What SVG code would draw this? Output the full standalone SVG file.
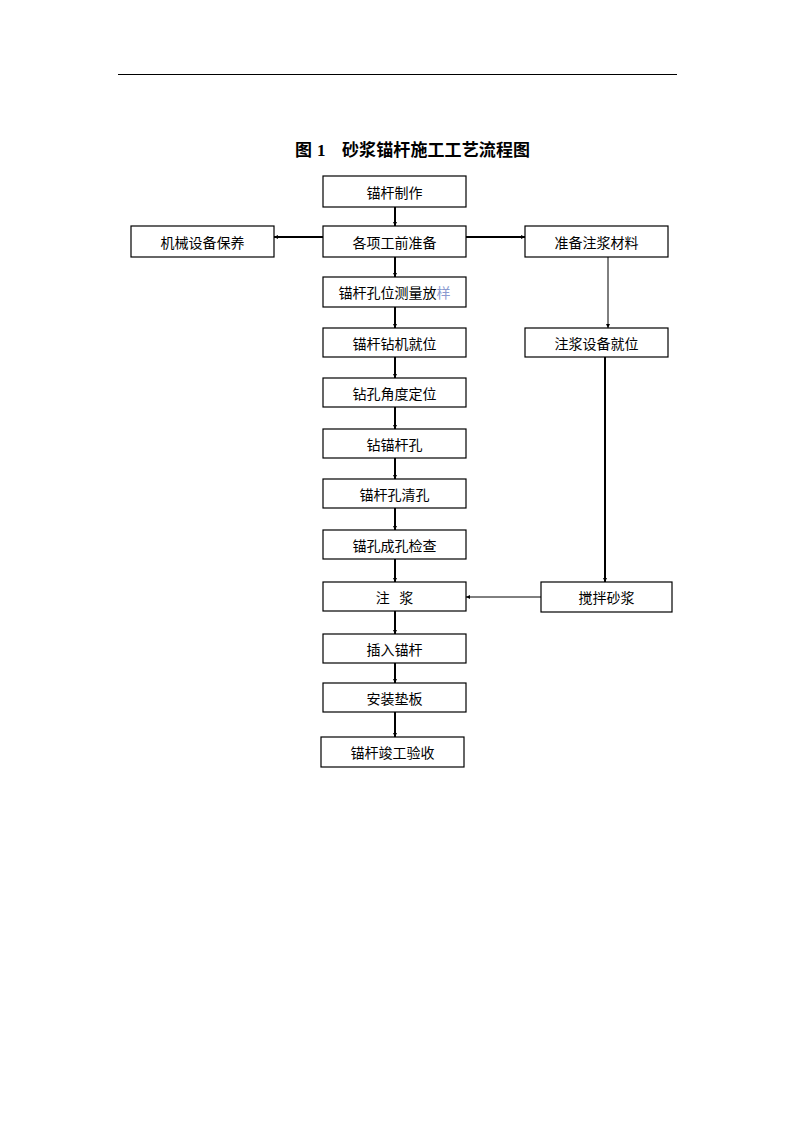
<svg xmlns="http://www.w3.org/2000/svg" width="794" height="1123" viewBox="0 0 794 1123">
<style>
.box{fill:#fff;stroke:#000;stroke-width:1.2}
.t{font-family:"Noto Sans CJK SC","Noto Sans",sans-serif;font-size:14px;fill:#000;text-anchor:middle;dominant-baseline:central}
.ti{font-family:"Liberation Serif","Noto Sans CJK SC",serif;font-size:17px;font-weight:bold;fill:#000;dominant-baseline:central}
.thick{stroke:#000;stroke-width:2;fill:none}
.thin{stroke:#000;stroke-width:1;fill:none}
</style>
<defs>
<marker id="ah" viewBox="0 0 6 6" refX="6" refY="3" markerWidth="4" markerHeight="4" markerUnits="userSpaceOnUse" orient="auto"><path d="M0,0 L6,3 L0,6 Z" fill="#000"/></marker>
</defs>
<rect width="794" height="1123" fill="#fff"/>
<line x1="118" y1="74.5" x2="677" y2="74.5" stroke="#000" stroke-width="1"/>
<text class="ti" x="295" y="150">图</text>
<text class="ti" x="317" y="150">1</text>
<text class="ti" x="342" y="150" textLength="188" lengthAdjust="spacing">砂浆锚杆施工工艺流程图</text>
<g id="connectors">
<line class="thick" x1="395" y1="207" x2="395" y2="226" marker-end="url(#ah)"/>
<line class="thick" x1="323" y1="237" x2="274" y2="237" marker-end="url(#ah)"/>
<line class="thick" x1="466" y1="237" x2="525" y2="237" marker-end="url(#ah)"/>
<line class="thick" x1="395" y1="257" x2="395" y2="277" marker-end="url(#ah)"/>
<line class="thin" x1="608" y1="257" x2="608" y2="328" marker-end="url(#ah)"/>
<line class="thick" x1="395" y1="307" x2="395" y2="328" marker-end="url(#ah)"/>
<line class="thick" x1="395" y1="357" x2="395" y2="378" marker-end="url(#ah)"/>
<line class="thick" x1="395" y1="407" x2="395" y2="429" marker-end="url(#ah)"/>
<line class="thick" x1="395" y1="458" x2="395" y2="479" marker-end="url(#ah)"/>
<line class="thick" x1="395" y1="508" x2="395" y2="530" marker-end="url(#ah)"/>
<line class="thick" x1="395" y1="559" x2="395" y2="582" marker-end="url(#ah)"/>
<line class="thick" x1="605" y1="357" x2="605" y2="582" marker-end="url(#ah)"/>
<line class="thin" x1="541" y1="597" x2="466" y2="597" marker-end="url(#ah)"/>
<line class="thick" x1="395" y1="611" x2="395" y2="634" marker-end="url(#ah)"/>
<line class="thick" x1="395" y1="663" x2="395" y2="683" marker-end="url(#ah)"/>
<line class="thick" x1="395" y1="712" x2="395" y2="737" marker-end="url(#ah)"/>
</g>
<g id="n1"><rect class="box" x="323" y="176" width="143" height="31"/><text class="t" x="394.5" y="191.5">锚杆制作</text></g>
<g id="n2"><rect class="box" x="323" y="226" width="143" height="31"/><text class="t" x="394.5" y="241.5">各项工前准备</text></g>
<g id="n3"><rect class="box" x="131" y="226" width="143" height="31"/><text class="t" x="202.5" y="241.5">机械设备保养</text></g>
<g id="n4"><rect class="box" x="525" y="226" width="143" height="31"/><text class="t" x="596.5" y="241.5">准备注浆材料</text></g>
<g id="n5"><rect class="box" x="323" y="277" width="143" height="30"/><text class="t" x="394.5" y="292">锚杆孔位测量放<tspan fill="#8a9ad0">样</tspan></text></g>
<g id="n6"><rect class="box" x="323" y="328" width="143" height="29"/><text class="t" x="394.5" y="342.5">锚杆钻机就位</text></g>
<g id="n7"><rect class="box" x="525" y="328" width="143" height="29"/><text class="t" x="596.5" y="342.5">注浆设备就位</text></g>
<g id="n8"><rect class="box" x="323" y="378" width="143" height="29"/><text class="t" x="394.5" y="392.5">钻孔角度定位</text></g>
<g id="n9"><rect class="box" x="323" y="429" width="143" height="29"/><text class="t" x="394.5" y="443.5">钻锚杆孔</text></g>
<g id="n10"><rect class="box" x="323" y="479" width="143" height="29"/><text class="t" x="394.5" y="493.5">锚杆孔清孔</text></g>
<g id="n11"><rect class="box" x="323" y="530" width="143" height="29"/><text class="t" x="394.5" y="544.5">锚孔成孔检查</text></g>
<g id="n12"><rect class="box" x="323" y="582" width="143" height="29"/><text class="t" x="394.5" y="596.5" xml:space="preserve">注   浆</text></g>
<g id="n13"><rect class="box" x="541" y="582" width="131" height="30"/><text class="t" x="606.5" y="597">搅拌砂浆</text></g>
<g id="n14"><rect class="box" x="323" y="634" width="143" height="29"/><text class="t" x="394.5" y="648.5">插入锚杆</text></g>
<g id="n15"><rect class="box" x="323" y="683" width="143" height="29"/><text class="t" x="394.5" y="697.5">安装垫板</text></g>
<g id="n16"><rect class="box" x="321" y="737" width="143" height="30"/><text class="t" x="392.5" y="752">锚杆竣工验收</text></g>
</svg>
